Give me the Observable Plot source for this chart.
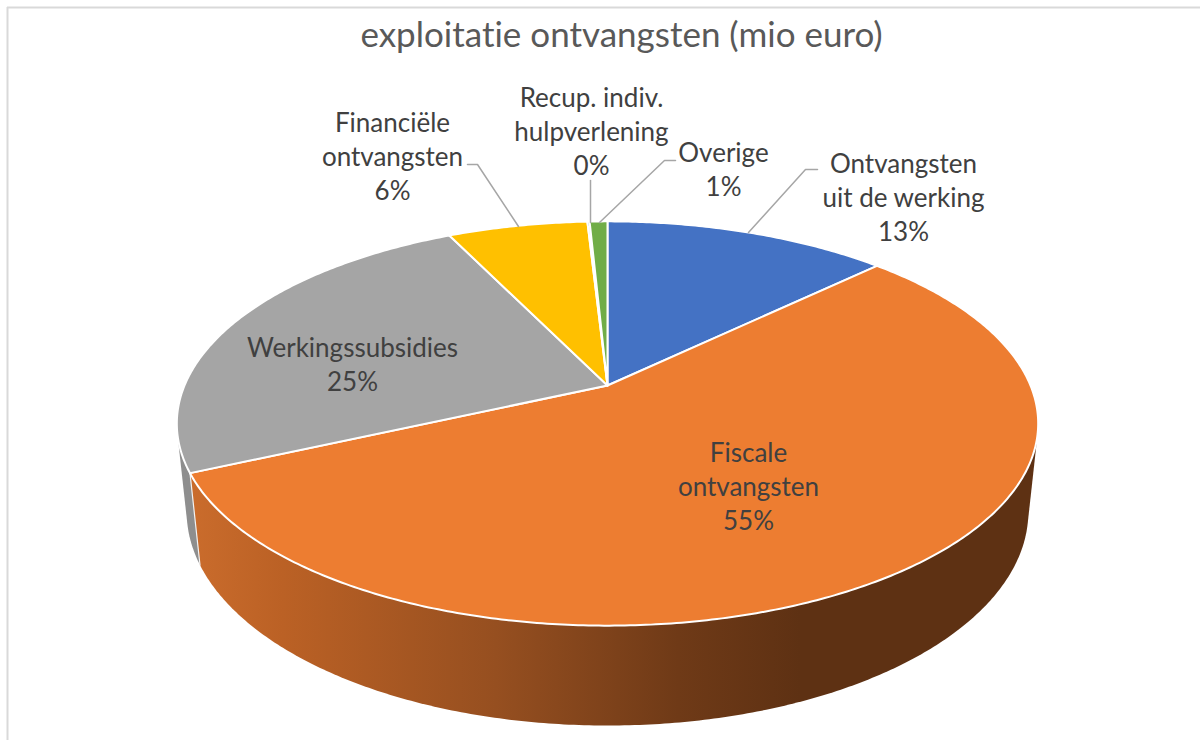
<!DOCTYPE html>
<html>
<head>
<meta charset="utf-8">
<script src="https://cdn.jsdelivr.net/npm/d3@7"></script>
<script src="https://cdn.jsdelivr.net/npm/@observablehq/plot@0.6"></script>
<style>
html,body{margin:0;padding:0;background:#fff}
svg{display:block}
</style>
</head>
<body>
<div id="chart"></div>
<script>
const chartTitle = "exploitatie ontvangsten (mio euro)";
const categories = ["Ontvangsten\nuit de werking", "Fiscale\nontvangsten", "Werkingssubsidies", "Financiële\nontvangsten", "Recup. indiv.\nhulpverlening", "Overige"];
const shares = [12.8, 55.4, 24.6, 6.3, 0.1, 0.8];
const sliceColors = ["#4472c4", "#ed7d31", "#a5a5a5", "#ffc000", "#5b9bd5", "#70ad47"];

// layout of the labels and their leader lines (one entry per category)
const labelX = [903, 748, 352, 392, 591, 723];
const labelY = [196, 485, 363, 155, 130, 168];
const leaders = [
  [[748,232],[805,169],[817,169]],
  null,
  null,
  [[518,226],[477,164],[467,164]],
  [[590,222],[590,180]],
  [[599,222],[664,160],[675,160]]
];

// perspective of the 3-D disc
const cam = {cx:607, cy:385, a:423, b:195, k:-0.188, m:0.0226, h:88.8};
function project(theta, depth, r = 1) {
  const u = r * Math.sin(theta), v = -r * Math.cos(theta);
  const w = 1 + cam.k * v + cam.m * depth;
  return {x: cam.cx + cam.a * u / w, y: cam.cy + (cam.b * v + cam.h * depth) / w};
}
const pie = d3.pie().sort(null).value(d => d)(shares);
function arc(a0, a1, depth) {
  const n = Math.max(2, Math.ceil((a1 - a0) / 0.01));
  return d3.range(n + 1).map(i => project(a0 + (a1 - a0) * i / n, depth));
}
const topFace = p => [project(0, 0, 0), ...arc(p.startAngle, p.endAngle, 0), project(0, 0, 0)];
// the wall of a slice: the outline around its upper and lower rim (the top faces cover what lies behind)
const wall = p => {
  const hull = d3.polygonHull([...arc(p.startAngle, p.endAngle, 0), ...arc(p.startAngle, p.endAngle, 1)].map(d => [d.x, d.y]));
  return [...hull, hull[0]].map(([x, y]) => ({x, y}));
};

const gradientDefs = () => {
  const ns = "http://www.w3.org/2000/svg";
  const defs = document.createElementNS(ns, "defs");
  const g = document.createElementNS(ns, "linearGradient");
  g.setAttribute("id", "wallShade");
  g.setAttribute("gradientUnits", "userSpaceOnUse");
  g.setAttribute("x1", 190); g.setAttribute("x2", 800); g.setAttribute("y1", 0); g.setAttribute("y2", 0);
  [[0,"#ca6c2c"],[0.15,"#bb6125"],[0.5,"#964f20"],[0.8,"#6f3a17"],[1,"#5e3113"]].forEach(([o,c]) => {
    const s = document.createElementNS(ns, "stop");
    s.setAttribute("offset", o); s.setAttribute("stop-color", c); g.appendChild(s);
  });
  defs.appendChild(g);
  return defs;
};

const labelRows = categories.map((c, i) => ({
  text: c + "\n" + Math.round(shares[i]) + "%", x: labelX[i], y: labelY[i]
}));
const xy = {x: "x", y: "y"};
const marks = [
  gradientDefs,
  Plot.ruleX([7], {y1: 7, y2: 740, stroke: "#d9d9d9", strokeWidth: 2}),
  Plot.ruleY([7], {x1: 7, x2: 1200, stroke: "#d9d9d9", strokeWidth: 2}),
  Plot.line(wall(pie[2]), {...xy, fill: "#8e8e8e", stroke: "none"}),
  Plot.line(wall(pie[1]), {...xy, fill: "url(#wallShade)", stroke: "none"}),
  Plot.line([project(pie[1].endAngle, 0), project(pie[1].endAngle, 1)], {...xy, stroke: "#f2f2f2", strokeWidth: 1.2}),
  ...pie.map((p, i) => Plot.line(topFace(p), {...xy, fill: sliceColors[i], stroke: "#fff", strokeWidth: 2})),
  ...leaders.filter(Boolean).map(l => Plot.line(l.map(([x, y]) => ({x, y})), {...xy, stroke: "#a6a6a6", strokeWidth: 1.5})),
  Plot.text(labelRows, {x: "x", y: "y", text: "text", fontSize: 26, lineHeight: 1.31, fill: "#404040", textAnchor: "middle", lineAnchor: "middle"}),
  Plot.text([chartTitle], {x: [621], y: [35], text: d => d, fontSize: 35, fill: "#595959", textAnchor: "middle", lineAnchor: "middle"})
];
const chart = Plot.plot({
  width: 1200, height: 740, margin: 0,
  x: {domain: [0, 1200], range: [0, 1200], axis: null},
  y: {domain: [0, 740], range: [0, 740], axis: null},
  style: {fontFamily: "Lato, sans-serif", background: "#fff", fontVariantLigatures: "none"},
  marks
});
document.getElementById("chart").appendChild(chart);
</script>
</body>
</html>
